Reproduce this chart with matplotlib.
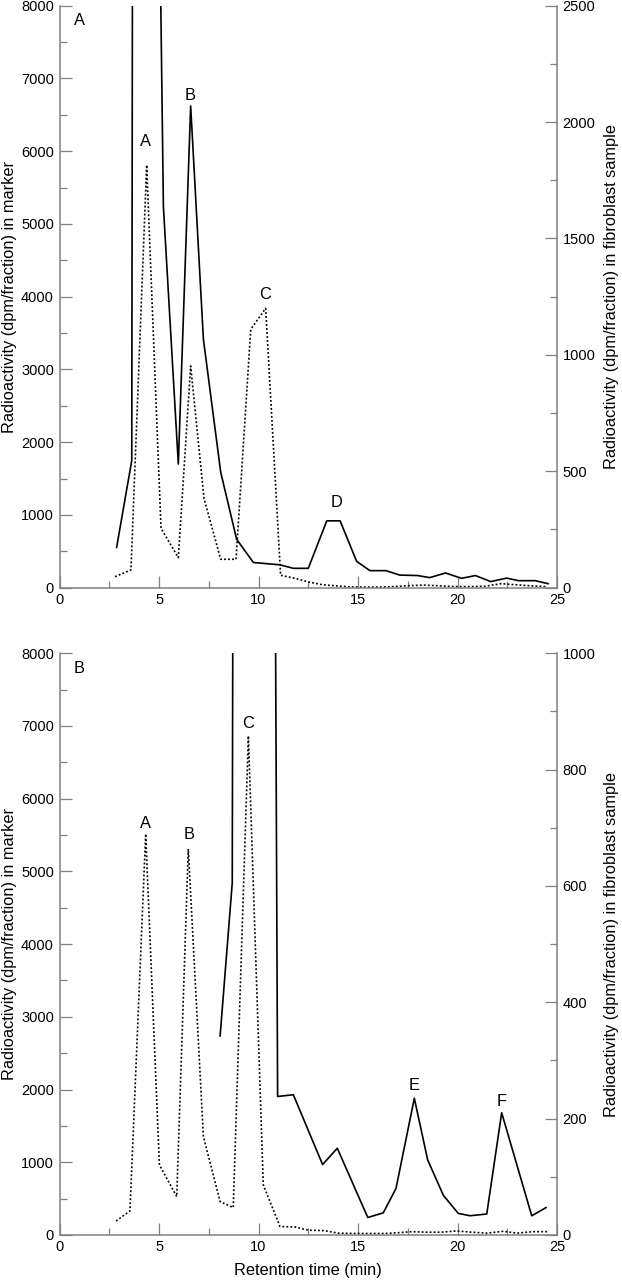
'''
radio-HPLC traces: marker (dotted, left axis) vs fibroblast sample (solid, right axis)
'''

import matplotlib.pyplot as plt
from matplotlib.ticker import MultipleLocator

params = {
    'font.family': ['Liberation Sans', 'DejaVu Sans'],
    'font.size': 10.5,
    'axes.labelsize': 11.8,
    'axes.linewidth': 1.1,
    'axes.edgecolor': '#808080',
}
plt.rcParams.update(params)

# panel A: marker (dpm/fraction, left axis)
top_marker_t = [2.79, 3.59, 4.38, 5.10, 5.97, 6.59, 7.26, 8.10, 8.87, 9.61, 10.36, 11.11,
                11.80, 12.50, 13.20, 13.90, 14.60, 15.40, 16.10, 16.80, 17.50, 18.30,
                19.00, 19.80, 20.60, 21.40, 22.20, 22.90, 23.70, 24.50]
top_marker_v = [151, 243, 5810, 816, 412, 3047, 1229, 390, 390, 3551, 3840, 170,
                130, 80, 40, 25, 10, 8, 8, 15, 27, 35,
                27, 15, 14, 20, 55, 40, 25, 14]
# panel A: fibroblast sample (dpm/fraction, right axis); peak at 3.8 is off scale
top_fibro_t = [2.87, 3.63, 3.80, 5.22, 5.97, 6.59, 7.23, 8.10, 8.90, 9.74, 11.08, 11.75,
               12.50, 13.43, 14.10, 14.93, 15.60, 16.40, 17.10, 18.00, 18.60, 19.40,
               20.20, 20.90, 21.67, 22.47, 23.06, 23.90, 24.56]
top_fibro_v = [173, 546, 11060, 1637, 531, 2069, 1067, 496, 208, 108, 98, 83,
               83, 287, 287, 113, 73, 73, 54, 52, 43, 63,
               40, 52, 26, 41, 30, 30, 17]

# panel B
bottom_marker_t = [2.84, 3.54, 4.33, 5.02, 5.89, 6.47, 7.23, 8.07, 8.73, 9.49, 10.24,
                   11.08, 11.83, 12.50, 13.30, 14.00, 14.80, 15.50, 16.30, 17.00, 17.70,
                   18.40, 19.20, 19.96, 20.70, 21.50, 22.30, 23.00, 23.80, 24.50]
bottom_marker_v = [192, 330, 5515, 963, 527, 5308, 1352, 458, 376, 6863, 688,
                   115, 110, 65, 60, 25, 20, 20, 20, 30, 45,
                   38, 38, 55, 38, 25, 50, 25, 45, 45]
bottom_fibro_t = [8.07, 8.68, 9.40, 10.96, 11.75, 13.22, 13.96, 15.49, 16.27, 16.91,
                  17.83, 18.50, 19.29, 20.04, 20.63, 21.47, 22.22, 23.73, 24.45]
bottom_fibro_v = [342, 605, 12100, 238, 241, 121, 149, 30, 38, 80,
                  235, 129, 68, 37, 33, 36, 210, 33, 47]

# peak letters (t, marker-axis value)
top_peaks = [('A', 4.3, 6130), ('B', 6.56, 6763), ('C', 10.33, 4023), ('D', 13.9, 1168)]
bottom_peaks = [('A', 4.3, 5653), ('B', 6.49, 5501), ('C', 9.49, 7028),
                ('E', 17.83, 2053), ('F', 22.22, 1833)]

left_label = 'Radioactivity (dpm/fraction) in marker'
right_label = 'Radioactivity (dpm/fraction) in fibroblast sample'


def style_axis(ax, side):
    ax.tick_params(which='major', direction='in', length=8.4, width=0.9,
                   color='#808080', pad=4)
    ax.tick_params(which='minor', direction='in', length=4.8, width=0.9,
                   color='#808080')
    ax.spines['top'].set_visible(False)
    if side == 'left':
        ax.spines['right'].set_visible(False)
    else:
        ax.spines['left'].set_visible(False)
        ax.spines['bottom'].set_visible(False)


def draw_panel(ax, letter, mt, mv, ft, fv, rmax, rmajor, peaks, xlabel=False):
    ax.plot(mt, mv, color='black', lw=1.2, linestyle=(0, (1.1, 1.3)))
    ax.set_xlim(0, 25)
    ax.set_ylim(0, 8000)
    ax.xaxis.set_major_locator(MultipleLocator(5))
    ax.xaxis.set_minor_locator(MultipleLocator(2.5))
    ax.yaxis.set_major_locator(MultipleLocator(1000))
    ax.yaxis.set_minor_locator(MultipleLocator(500))
    style_axis(ax, 'left')
    ax.set_ylabel(left_label, labelpad=3)
    if xlabel:
        ax.set_xlabel('Retention time (min)', labelpad=6)
    for txt, x, y in peaks:
        ax.text(x, y, txt, ha='center', va='center', fontsize=11.8)
    ax.text(0.98, 7790, letter, ha='center', va='center', fontsize=11.8)

    ax2 = ax.twinx()
    ax2.plot(ft, fv, color='black', lw=1.2)
    ax2.set_ylim(0, rmax)
    ax2.yaxis.set_major_locator(MultipleLocator(rmajor))
    ax2.yaxis.set_minor_locator(MultipleLocator(rmajor / 2))
    style_axis(ax2, 'right')
    ax2.set_ylabel(right_label, labelpad=6)
    return ax2


fig = plt.figure(figsize=(6.22, 12.8), dpi=100)
ax_top = fig.add_axes([0.0957, 0.5409, 0.7998, 0.4547])
ax_bot = fig.add_axes([0.0957, 0.0352, 0.7998, 0.4545])

draw_panel(ax_top, 'A', top_marker_t, top_marker_v, top_fibro_t, top_fibro_v,
           2500, 500, top_peaks)
draw_panel(ax_bot, 'B', bottom_marker_t, bottom_marker_v, bottom_fibro_t, bottom_fibro_v,
           1000, 200, bottom_peaks, xlabel=True)

fig.savefig('out.png', dpi=100)
